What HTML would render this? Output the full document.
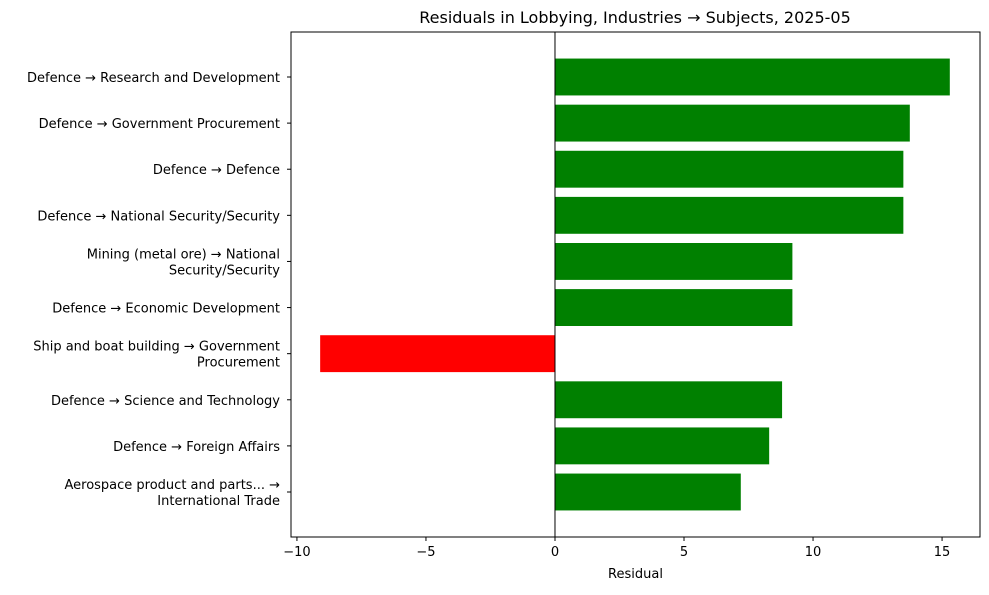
<!DOCTYPE html>
<html><head><meta charset="utf-8"><style>
body{margin:0;background:#fff;font-family:"Liberation Sans","DejaVu Sans",sans-serif;}
svg text{font-family:"DejaVu Sans","Liberation Sans",sans-serif;}
</style></head><body>
<svg id="chart" width="989" height="590" viewBox="0 0 989 590"></svg>
<script>
const categories = [
 ["Defence → Research and Development"],
 ["Defence → Government Procurement"],
 ["Defence → Defence"],
 ["Defence → National Security/Security"],
 ["Mining (metal ore) → National","Security/Security"],
 ["Defence → Economic Development"],
 ["Ship and boat building → Government","Procurement"],
 ["Defence → Science and Technology"],
 ["Defence → Foreign Affairs"],
 ["Aerospace product and parts... →","International Trade"]
];
const residuals = [15.3, 13.75, 13.5, 13.5, 9.2, 9.2, -9.1, 8.8, 8.3, 7.2];
const xTicks = [-10, -5, 0, 5, 10, 15];
const xTickLabels = ["−10", "−5", "0", "5", "10", "15"];

const NS = "http://www.w3.org/2000/svg";
const svg = document.getElementById("chart");
const L = 291, R = 980, T = 32, B = 537;
const xMin = -10.23, xMax = 16.47;
const x = v => L + (v - xMin) / (xMax - xMin) * (R - L);
const n = categories.length;
const step = (B - T) / (n - 1 + 0.8 + 0.2 + 0.1);
const yC = i => T + step * 0.9 + i * ((B - T - step * 1.8) / (n - 1));
function mk(tag, attrs, parent) {
  const e = document.createElementNS(NS, tag);
  for (const k in attrs) e.setAttribute(k, attrs[k]);
  (parent || svg).appendChild(e);
  return e;
}
const band = (B - T - step * 1.8) / (n - 1);
const t = mk("text", {x: 635, y: 23, "text-anchor": "middle", "font-size": 16, fill: "#000"});


t.textContent = "Residuals in Lobbying, Industries → Subjects, 2025-05";
residuals.forEach((v, i) => {
  const x0 = x(Math.min(0, v)), x1 = x(Math.max(0, v));
  const r = mk("rect", {x: x0, y: yC(i) - band * 0.4, width: x1 - x0, height: band * 0.8, fill: v >= 0 ? "#008000" : "#ff0000"});
  
  
  mk("line", {x1: L - 4, x2: L, y1: yC(i), y2: yC(i), stroke: "#000"});
  const lines = categories[i];
  const lt = mk("text", {x: L - 11, "text-anchor": "end", "font-size": 13, fill: "#000"});
  
  
  lines.forEach((s, k) => {
    const ts = mk("tspan", {x: L - 11, y: yC(i) + 5 + (k - (lines.length - 1) / 2) * 16}, lt);
    ts.textContent = s;
  });
});
const zl = mk("line", {x1: x(0), x2: x(0), y1: T, y2: B, stroke: "#000", "stroke-width": 1});


const frame = mk("rect", {x: L, y: T, width: R - L, height: B - T, fill: "none", stroke: "#000", "stroke-width": 1});


xTicks.forEach((v, i) => {
  mk("line", {x1: x(v), x2: x(v), y1: B, y2: B + 4, stroke: "#000"});
  const tl = mk("text", {x: x(v), y: B + 19, "text-anchor": "middle", "font-size": 13, fill: "#000"});
  
  
  tl.textContent = xTickLabels[i];
});
const xt = mk("text", {x: (L + R) / 2, y: 578, "text-anchor": "middle", "font-size": 13, fill: "#000"});


xt.textContent = "Residual";
</script>
</body></html>
